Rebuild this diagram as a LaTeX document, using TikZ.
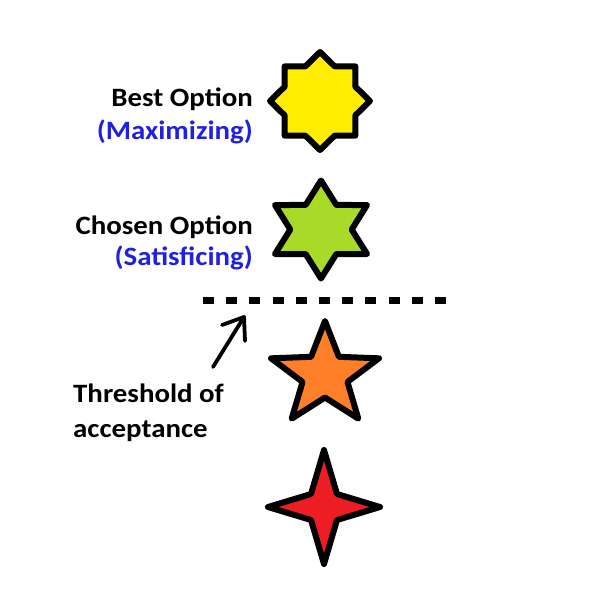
\documentclass[tikz,border=0pt]{standalone}
\usepackage{fontspec}
\usepackage{graphicx}
\setmainfont{Carlito}
\definecolor{staryellow}{RGB}{255,238,0}
\definecolor{stargreen}{RGB}{170,218,40}
\definecolor{starorange}{RGB}{255,128,40}
\definecolor{starred}{RGB}{236,30,36}
\definecolor{labelblue}{RGB}{32,32,222}
\newcommand{\widetext}[1]{\scalebox{1.09}[1]{#1}}
\begin{document}
\begin{tikzpicture}[x=1pt,y=-1pt,
  starline/.style={draw=black, line width=6pt, line join=round},
  lbl/.style={font=\bfseries\fontsize{26.5}{32}\selectfont, inner sep=0pt},
  bluelbl/.style={lbl, text=labelblue},
  threshline/.style={line width=7pt, dash pattern=on 11pt off 12.2pt},
  arrowline/.style={line width=3.8pt, line cap=round, line join=round}]
\fill[white] (0,0) rectangle (600,600);
\useasboundingbox (0,0) rectangle (600,600);

% yellow 8-point star
\begin{scope}[shift={(320,101)}, xscale=1.02]
\draw[starline, fill=staryellow] (-90:49) \foreach \a in {0,...,7}{ -- (-90+45*\a+22.5:37.5) -- (-90+45*\a+45:49)} -- cycle;
\end{scope}
% green 6-point star
\begin{scope}[shift={(321,229.5)}, xscale=1.085]
\draw[starline, fill=stargreen] (-90:49) \foreach \a in {0,...,5}{ -- (-90+60*\a+30:28.3) -- (-90+60*\a+60:49)} -- cycle;
\end{scope}
% orange 5-point star
\begin{scope}[shift={(325,375)}, xscale=1.05]
\draw[starline, fill=starorange] (-90:54) \foreach \a in {0,...,4}{ -- (-90+72*\a+36:22.5) -- (-90+72*\a+72:54)} -- cycle;
\end{scope}
% red 4-point star
\begin{scope}[shift={(324,507)}]
\draw[starline, fill=starred] (0,-57) -- (13,-13) -- (56,0) -- (13,13) -- (0,57) -- (-13,13) -- (-56,0) -- (-13,-13) -- cycle;
\end{scope}

% labels
\node[lbl, anchor=base east] (best) at (253,106) {\widetext{Best Option}};
\node[bluelbl, anchor=base east] (maxi) at (253,139) {\widetext{(Maximizing)}};
\node[lbl, anchor=base east] (chosen) at (253,234) {\widetext{Chosen Option}};
\node[bluelbl, anchor=base east] (satis) at (253,265) {\widetext{(Satisficing)}};
\node[lbl, anchor=base west] (thresh) at (73,402) {\widetext{Threshold of}};
\node[lbl, anchor=base west] (accept) at (73,437) {\widetext{acceptance}};

% threshold line
\coordinate (dashL) at (203,300);
\coordinate (dashR) at (447,300);
\draw[threshline] (dashL) -- (dashR);

% arrow
\coordinate (arrTail) at (213,367);
\coordinate (arrTip) at (244,317);
\coordinate (armA) at (222,325);
\coordinate (armB) at (245,341);
\draw[arrowline] (arrTail) -- (arrTip);
\draw[arrowline] (armA) -- (arrTip) -- (armB);
\end{tikzpicture}
\end{document}
